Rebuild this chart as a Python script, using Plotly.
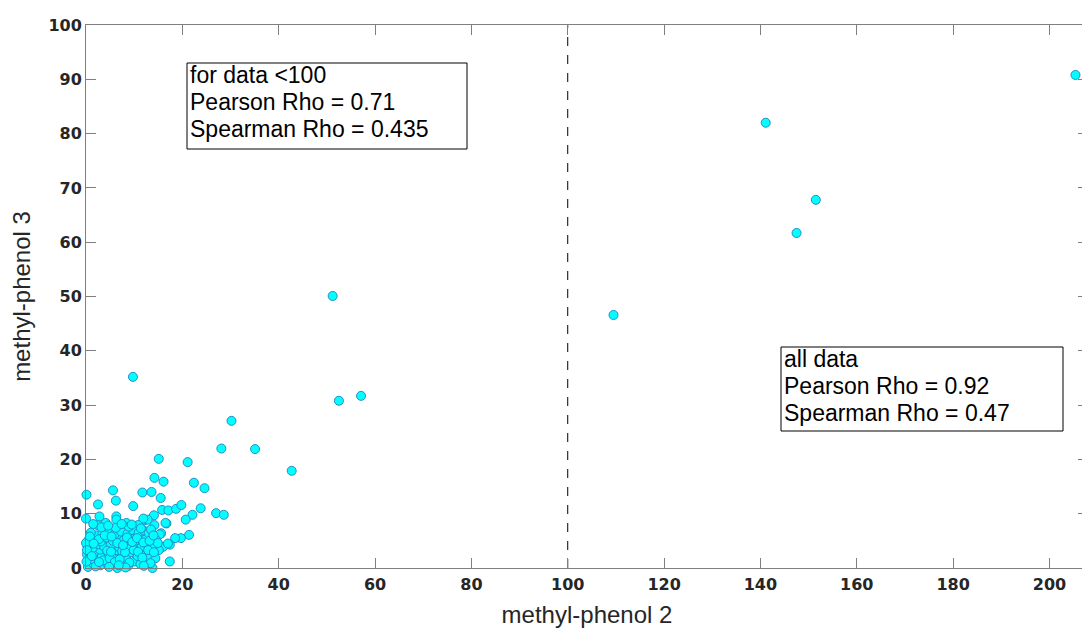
import plotly.graph_objects as go

# methyl-phenol 2 (x) and methyl-phenol 3 (y)
mp2 = [
    # outer / sparse points
    0.1, 2.5, 5.6, 6.2, 9.8, 11.7, 13.6, 14.2, 15.1, 15.5, 16.1, 15.8, 17.1, 18.7,
    19.8, 21.1, 22.4, 24.6, 23.8, 22.1, 20.7, 27.0, 28.6, 28.1, 30.2, 35.1, 42.7,
    9.75, 51.2, 52.5, 57.1, 21.4, 19.7, 18.5, 17.4, 17.4, 13.8, 16.0, 15.1, 13.9,
    17.0, 15.6, 16.7, 14.1, 12.2, 16.5, 14.2, 12.8, 11.9, 10.8, 8.4, 6.3, 6.3, 4.1,
    2.4, 1.5, 2.8, 0.0, 13.4, 15.3,
    # dense core
    0.4, 1.5, 3.0, 4.2, 5.5, 6.5, 7.6, 8.8, 10.1, 11.3, 12.5, 1.0, 2.4, 0.2,
    0.6, 1.8, 3.3, 4.6, 5.9, 7.1, 8.3, 9.4, 10.7, 11.9, 13.1, 14.4, 6.4, 2.9, 0.1,
    0.3, 1.4, 2.6, 3.8, 5.1, 6.9, 8.0, 9.2, 10.3, 11.5, 12.7, 13.8, 4.4, 7.5,
    0.5, 1.9, 3.1, 4.3, 5.6, 6.7, 7.9, 9.0, 10.2, 11.2, 12.4, 0.0, 2.2,
    1.0, 3.4, 4.8, 5.9, 7.3, 8.6, 9.7, 10.9, 12.0, 13.0, 14.5, 6.2, 8.9, 11.4, 13.5,
    0.2, 1.2, 2.0, 3.6, 4.9, 5.2, 6.0, 7.0, 8.1, 9.0, 9.9, 10.8, 11.7, 12.9, 13.4,
    14.1, 14.9, 0.8, 2.7, 3.9, 5.3, 6.5, 7.7, 8.5, 9.6, 10.6, 11.9, 13.2, 14.0, 3.2,
    4.6, 7.4, 9.5, 1.6, 12.0, 4.8, 8.2, 2.7, 6.8,
    # large values
    109.5, 141.1, 147.5, 151.5, 205.4,
]
mp3 = [
    13.5, 11.7, 14.3, 12.4, 11.4, 13.9, 14.0, 16.6, 20.1, 12.9, 15.9, 10.7, 10.6, 10.9,
    11.6, 19.5, 15.7, 14.7, 11.0, 9.8, 8.9, 10.1, 9.8, 22.0, 27.1, 21.9, 17.9,
    35.2, 50.1, 30.8, 31.7, 6.1, 5.5, 5.5, 4.3, 1.2, 0.0, 3.9, 3.3, 2.7,
    4.5, 6.4, 8.2, 9.7, 8.8, 8.3, 7.9, 8.9, 9.1, 7.9, 8.3, 9.5, 8.9, 8.3,
    7.9, 8.1, 9.5, 9.1, 5.8, 6.2,
    0.2, 0.8, 0.5, 1.0, 0.6, 0.0, 0.9, 0.4, 1.2, 0.7, 1.5, 1.6, 1.9, 2.5,
    3.0, 2.6, 2.2, 2.8, 2.0, 2.5, 1.8, 2.9, 2.2, 2.7, 2.1, 1.8, 3.3, 3.4, 1.2,
    4.0, 3.7, 4.4, 3.9, 4.3, 3.8, 4.5, 3.6, 4.1, 3.8, 4.4, 3.9, 3.2, 3.1,
    5.1, 5.4, 4.9, 5.6, 5.0, 5.5, 5.2, 5.7, 5.0, 5.6, 5.3, 4.6, 6.0,
    6.5, 6.4, 6.9, 6.2, 6.7, 6.3, 7.0, 6.5, 6.9, 6.4, 5.2, 7.4, 7.6, 7.3, 7.1,
    3.3, 2.2, 0.3, 1.4, 1.8, 3.0, 1.1, 1.6, 2.9, 1.0, 3.3, 3.0, 1.9, 3.3, 0.9,
    2.9, 4.6, 5.8, 5.3, 6.0, 5.8, 4.6, 4.2, 5.6, 4.8, 5.5, 4.7, 5.0, 6.0, 7.5,
    7.8, 8.1, 8.0, 4.5, 0.4, 0.2, 0.1, 1.1, 0.5,
    46.6, 82.0, 61.7, 67.8, 90.8,
]

box_low = ["for data <100", "Pearson Rho = 0.71", "Spearman Rho = 0.435"]
box_all = ["all data", "Pearson Rho = 0.92", "Spearman Rho = 0.47"]
cut = 100

axis_col = "#7f7f7f"
text_col = "#262626"

# plot area in page pixels (the page has an 8px body margin)
L, T, W, H = 86, 25, 1002, 543

fig = go.Figure()
fig.add_trace(go.Scatter(
    x=mp2, y=mp3, mode="markers", cliponaxis=False, showlegend=False,
    marker=dict(size=9, color="#00ffff", line=dict(color="#1f8fc8", width=1)),
))
fig.add_trace(go.Scatter(
    x=[cut, cut], y=[0, 100], mode="lines", showlegend=False,
    line=dict(color="black", width=1, dash="dash"),
))


def px(xp):
    return (xp - L) / W


def py(yp):
    return 1 - (yp - T) / H


for lines, x0, y0, x1, y1 in [(box_low, 187, 63, 467, 149), (box_all, 781, 347, 1063, 431)]:
    fig.add_shape(
        type="rect", xref="paper", yref="paper",
        x0=px(x0), x1=px(x1), y0=py(y0), y1=py(y1),
        line=dict(color="black", width=1), fillcolor="white", layer="above",
    )
    # base size sets the line spacing, spans give the glyph size
    body = "<br>".join(f"<span style='font-size:23px'>{s}</span>" for s in lines)
    fig.add_annotation(
        xref="paper", yref="paper", x=px(x0 + 1), y=py(y0 - 3),
        xanchor="left", yanchor="top", showarrow=False, align="left", text=body,
        font=dict(family="Arial, Liberation Sans", size=20.8, color="black"),
    )

tick_font = dict(family="DejaVu Sans", size=16, color=text_col, weight="bold")
title_font = dict(family="Arial, Liberation Sans", size=24, color=text_col)
common = dict(
    showgrid=False, zeroline=False, showline=True, linecolor=axis_col, linewidth=1,
    mirror="ticks", ticks="inside", ticklen=10, tickcolor=axis_col, tickfont=tick_font,
)
fig.update_xaxes(range=[0, 208], dtick=20, ticklabelstandoff=2,
                 title=dict(text="methyl-phenol 2", font=title_font, standoff=14), **common)
fig.update_yaxes(range=[0, 100], dtick=10, ticklabelstandoff=0,
                 title=dict(text="methyl-phenol 3", font=title_font, standoff=10), **common)
fig.update_layout(
    width=1082, height=620, plot_bgcolor="white", paper_bgcolor="white",
    margin=dict(l=L - 8, r=2, t=T - 8, b=620 - (T - 8) - H),
)
fig.write_html("out.html")
